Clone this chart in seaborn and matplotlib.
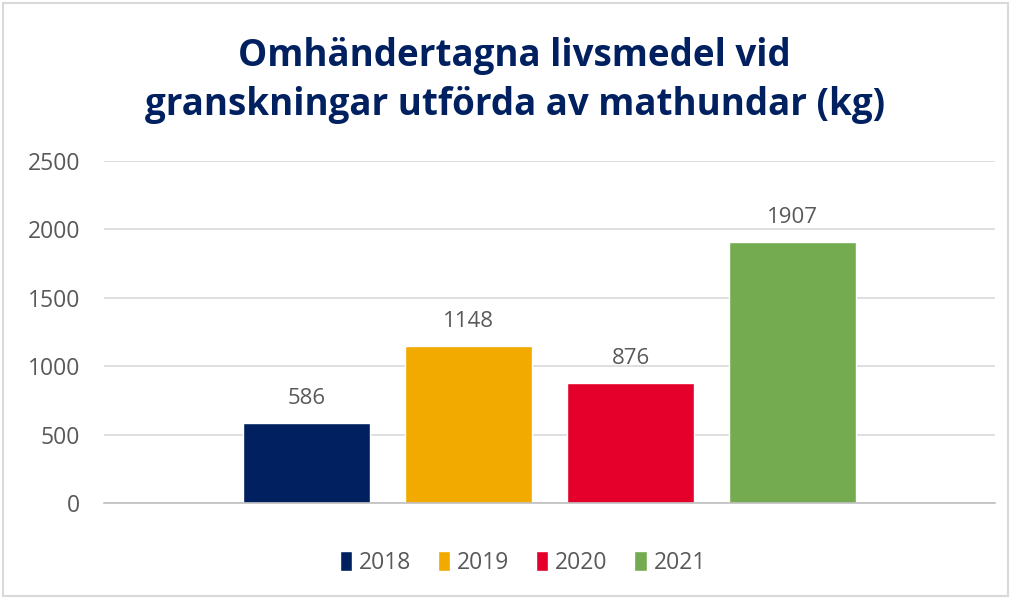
import pandas as pd
import matplotlib.pyplot as plt
import seaborn as sns

years = ["2018", "2019", "2020", "2021"]
kg = [586, 1148, 876, 1907]
colors = ["#002060", "#F2A900", "#E4002B", "#74AA50"]

df = pd.DataFrame({"grupp": [""] * len(years), "år": years, "kg": kg})

sns.set_style("white")
plt.rcParams["font.family"] = ["Open Sans", "DejaVu Sans"]

fig = plt.figure(figsize=(10.13, 5.98), dpi=100)
ax = fig.add_axes([0.1022, 0.1589, 0.8805, 0.5719])

sns.barplot(data=df, x="grupp", y="kg", hue="år", palette=colors,
            width=0.727, gap=0.216, ax=ax, legend=True, saturation=1)

for cont in ax.containers:
    ax.bar_label(cont, padding=10, fontsize=16, color="#595959")

ax.set_ylim(0, 2500)
ax.set_xlim(-0.5, 0.5)
ax.set_yticks(range(0, 2501, 500))
ax.yaxis.grid(True, color="#D9D9D9", linewidth=1.2)
ax.set_axisbelow(True)
for s in ["left", "right", "top"]:
    ax.spines[s].set_visible(False)
ax.spines["bottom"].set_color("#BFBFBF")
ax.spines["bottom"].set_linewidth(1.2)
ax.set_xticks([-0.5, 0.5])
ax.set_xticklabels(["", ""])
ax.tick_params(axis="x", length=6, color="#BFBFBF", width=1.2)
ax.tick_params(axis="y", length=0, labelsize=16.5, labelcolor="#595959", pad=17)
ax.set_xlabel("")
ax.set_ylabel("")

ax.legend(loc="center", bbox_to_anchor=(0.47, -0.175), ncol=4, frameon=False,
          fontsize=16.5, labelcolor="#595959", handlelength=0.55, handleheight=1.0,
          handletextpad=0.3, columnspacing=1.15)

fig.suptitle("Omhändertagna livsmedel vid\ngranskningar utförda av mathundar (kg)",
             x=0.508, y=0.938, fontsize=26.5, fontweight="bold", color="#002060",
             linespacing=1.38)

border = plt.Rectangle((0.003, 0.003), 0.992, 0.992, transform=fig.transFigure,
                       fill=False, edgecolor="#D9D9D9", linewidth=1.5)
fig.patches.append(border)

fig.savefig("out.png", dpi=100)
